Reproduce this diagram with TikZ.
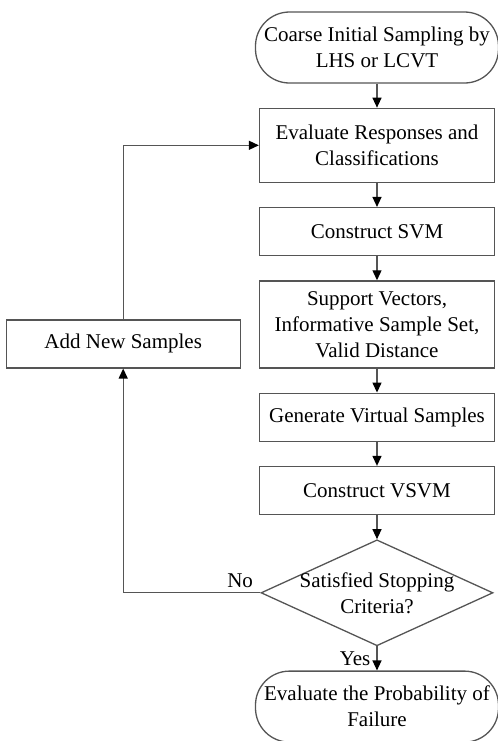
\documentclass[tikz,border=0pt]{standalone}
\usepackage{fontspec}
\setmainfont{Liberation Serif}
\usepackage{xcolor}
\usepackage{tikz}
\usetikzlibrary{
  arrows.meta,
  positioning,
  shapes.geometric
}
\definecolor{edge}{RGB}{85,85,85}
\tikzset{
  chart/.style={ font=\fontsize{10.5}{13}\selectfont },
  procbox/.style={
    draw=edge,
    line width=0.65pt,
    minimum width=117.5pt,
    minimum height=24pt,
    align=center,
    inner sep=3pt
  },
  termbox/.style={
    draw=edge,
    line width=0.65pt,
    rounded corners=17pt,
    minimum width=121.5pt,
    minimum height=35.5pt,
    align=center,
    inner sep=3pt
  },
  decision/.style={
    diamond,
    draw=edge,
    line width=0.65pt,
    aspect=2.2,
    inner xsep=-25pt,
    inner ysep=-8pt,
    minimum width=116pt,
    minimum height=53pt,
    align=center
  },
  arrow/.style={
    -{Triangle[length=5pt,width=4.5pt,color=black]},
    line width=0.65pt,
    draw=edge
  }
}

\begin{document}
\begin{tikzpicture}[chart, node distance=12pt]
  \useasboundingbox (0,0) rectangle (249pt,-370.5pt);
  \node[termbox] (start) at (188.5pt,-23.75pt) {Coarse Initial Sampling by\\LHS or LCVT};
  \node[procbox, below=of start, minimum height=37pt] (eval) {Evaluate Responses and\\Classifications};
  \node[procbox, below=of eval] (svm) {Construct SVM};
  \node[procbox, below=of svm, minimum height=43.5pt] (sv) {Support Vectors,\\Informative Sample Set,\\Valid Distance};
  \node[procbox, below=of sv] (virt) {Generate Virtual Samples};
  \node[procbox, below=of virt] (vsvm) {Construct VSVM};
  \node[decision, below=of vsvm] (stop) {Satisfied Stopping\\Criteria?};
  \node[termbox, below=of stop] (pf) {Evaluate the Probability of\\Failure};
  \node[procbox, left=9pt of sv.south west, anchor=south east, minimum width=117pt] (add) {Add New Samples};
  \foreach \a/\b in {start/eval,eval/svm,svm/sv,sv/virt,virt/vsvm,vsvm/stop}
    \draw[arrow] (\a) -- (\b);
  \draw[arrow] (stop) -- node[left, pos=0.5, inner sep=3pt] (yes) {Yes} (pf);
  \draw[arrow] (stop.west) -- node[above left, pos=0.02, inner sep=2pt] (no) {No} (stop.west -| add.south) -- (add.south);
  \draw[arrow] (add.north) |- (eval.west);
\end{tikzpicture}
\end{document}
